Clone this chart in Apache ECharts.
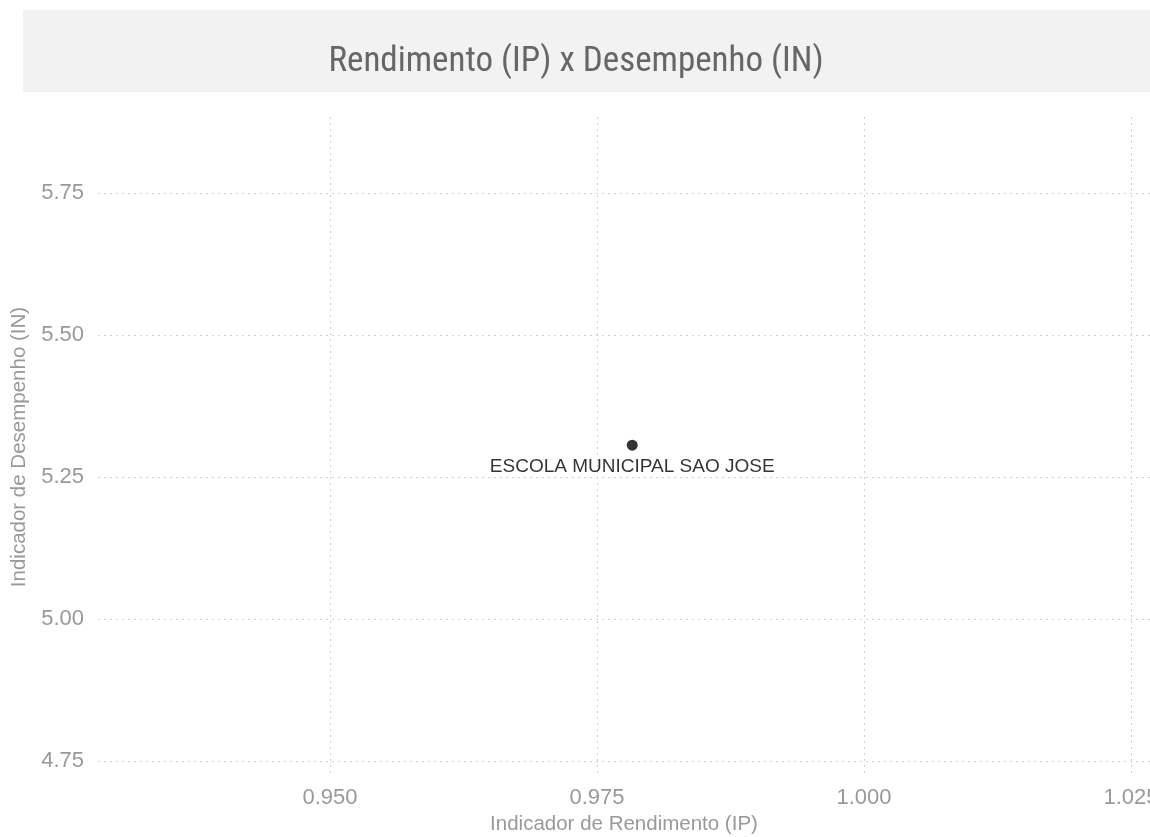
<!DOCTYPE html>
<html><head><meta charset="utf-8">
<script src="https://cdn.jsdelivr.net/npm/echarts@6/dist/echarts.min.js"></script>
<style>html,body{margin:0;padding:0;background:#fff}#c{width:1150px;height:837px}</style>
</head><body><div id="c"></div>
<script>
const schoolNames = ['ESCOLA MUNICIPAL SAO JOSE'];
const ipValues = [0.9783];
const inValues = [5.306];
const xTicks = [0.950, 0.975, 1.000, 1.025];
const yTicks = [4.75, 5.00, 5.25, 5.50, 5.75];
const xRange = [0.92828, 1.02678];
const yRange = [4.7218, 5.8838];

const chart = echarts.init(document.getElementById('c'));
const gridStyle = {show: true, lineStyle: {color: '#cfcfcf', type: [2, 4], width: 1}};
chart.setOption({
  animation: false,
  graphic: [{type: 'rect', left: 23, top: 10, shape: {width: 1127, height: 82}, style: {fill: '#f2f2f2'}, z: -1}],
  title: {text: 'Rendimento (IP) x Desempenho (IN)', left: 571, top: 40, textAlign: 'center',
    textStyle: {fontFamily: "'Roboto Condensed','Liberation Sans Narrow','DejaVu Sans Condensed',Roboto", fontWeight: 'normal', fontSize: 35, color: '#666'}},
  grid: {left: 98, right: 0, top: 117, bottom: 60, containLabel: false, outerBoundsMode: 'none'},
  xAxis: {type: 'value', min: xRange[0], max: xRange[1], name: 'Indicador de Rendimento (IP)',
    nameLocation: 'middle', nameGap: 31, nameTextStyle: {color: '#999', fontSize: 20.5, fontFamily: 'Liberation Sans'},
    axisLine: {show: false},
    axisTick: {show: false, customValues: xTicks},
    axisLabel: {customValues: xTicks, color: '#999', fontSize: 22, fontFamily: 'Liberation Sans', margin: 10,
      formatter: v => v.toFixed(3)},
    splitLine: gridStyle},
  yAxis: {type: 'value', min: yRange[0], max: yRange[1], name: 'Indicador de Desempenho (IN)',
    nameLocation: 'middle', nameGap: 66, nameTextStyle: {color: '#999', fontSize: 20.5, fontFamily: 'Liberation Sans'},
    axisLine: {show: false},
    axisTick: {show: false, customValues: yTicks},
    axisLabel: {customValues: yTicks, color: '#999', fontSize: 22, fontFamily: 'Liberation Sans', margin: 14,
      formatter: v => v.toFixed(2)},
    splitLine: gridStyle},
  series: [{type: 'scatter', symbolSize: 11, itemStyle: {color: '#000'},
    data: ipValues.map((v, i) => [v, inValues[i], schoolNames[i]]),
    label: {show: true, position: 'bottom', distance: 7, formatter: p => p.data[2],
      color: '#000', fontSize: 19, fontFamily: 'Liberation Sans'}}]
});
</script></body></html>
